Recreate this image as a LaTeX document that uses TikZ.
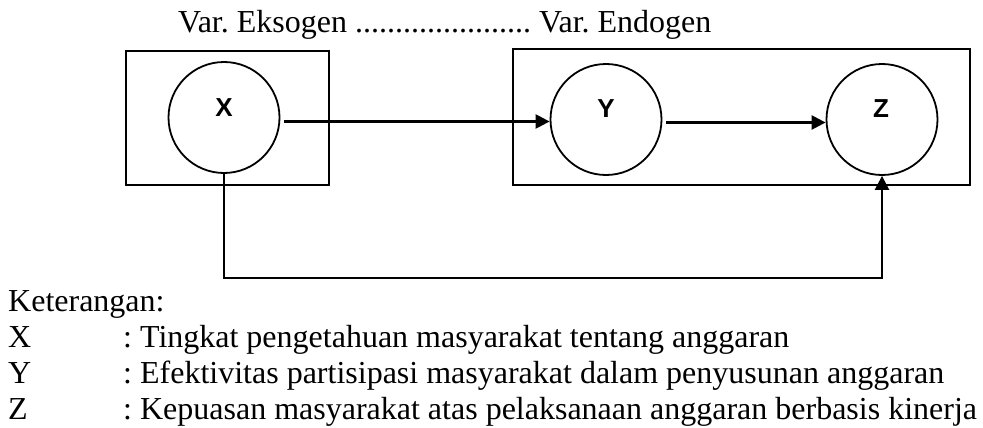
\documentclass[tikz,border=0pt]{standalone}
\usepackage{fontspec}
\setmainfont{Liberation Serif}
\newfontfamily\labfont{Liberation Sans}
\usetikzlibrary{arrows.meta}
\frenchspacing
\begin{document}
\begin{tikzpicture}[x=1pt,y=-1pt,
  frame/.style={line width=2pt},
  circst/.style={draw,circle,line width=1.8pt,minimum size=111pt,inner sep=0pt},
  conn/.style={line width=2.4pt,-{Triangle[length=14pt,width=14pt]}},
  lab/.style={font=\labfont\bfseries\fontsize{26}{26}\selectfont},
  txt/.style={anchor=base west,inner sep=0pt,font=\fontsize{32}{36}\selectfont}]
\useasboundingbox (0,0) rectangle (983,428);
% boxes
\draw[frame] (126,51) rectangle (329,185);
\draw[frame] (513,49) rectangle (970,185);
% circles
\node[circst] (X) at (224,117.5) {};
\node[circst] (Y) at (606,119.5) {};
\node[circst] (Z) at (882,119.5) {};
\node[lab] (xl) at (224,108) {X};
\node[lab] (yl) at (606,109) {Y};
\node[lab] (zl) at (881,109) {Z};
% connectors
\coordinate (xs) at ([shift={(3.5,4)}]X.east);
\coordinate (ys) at ([shift={(4,3)}]Y.east);
\draw[conn] (xs) -- (Y.west |- xs);
\draw[conn] (ys) -- (Z.west |- ys);
\coordinate (bot) at (0,278);
\draw[conn] (X.south) -- (X.south |- bot) -- (Z.south |- bot) -- (Z.south);
% title
\node[txt] (title) at (178,33) {Var. Eksogen ...................... Var. Endogen};
% legend
\node[txt] (ket) at (8,311) {Keterangan:};
\node[txt] (lx) at (8,347) {X};
\node[txt] (ly) at (8,383) {Y};
\node[txt] (lz) at (8,419) {Z};
\node[txt] (dx) at (123,347) {: Tingkat pengetahuan masyarakat tentang anggaran};
\node[txt] (dy) at (123,383) {: Efektivitas partisipasi masyarakat dalam penyusunan anggaran};
\node[txt] (dz) at (123,419) {: Kepuasan masyarakat atas pelaksanaan anggaran berbasis kinerja};
\end{tikzpicture}
\end{document}
